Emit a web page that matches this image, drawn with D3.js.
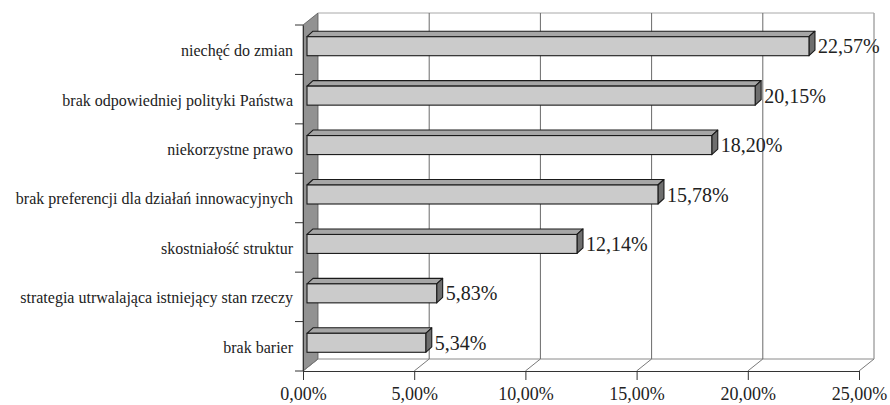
<!DOCTYPE html>
<html>
<head>
<meta charset="utf-8">
<script src="https://cdn.jsdelivr.net/npm/d3@7"></script>
<style>
  html, body { margin: 0; padding: 0; background: #fff; }
  svg { display: block; }
  text { font-family: "Liberation Serif", "Times New Roman", "DejaVu Serif", serif; fill: #222; }
</style>
</head>
<body>
<svg id="chart" width="890" height="405"></svg>
<script>
// Categories (top to bottom) and their shares in percent
const categories = [
  "niechęć do zmian",
  "brak odpowiedniej polityki Państwa",
  "niekorzystne prawo",
  "brak preferencji dla działań innowacyjnych",
  "skostniałość struktur",
  "strategia utrwalająca istniejący stan rzeczy",
  "brak barier"
];
const values = [22.57, 20.15, 18.20, 15.78, 12.14, 5.83, 5.34];
const xTicks = [0, 5, 10, 15, 20, 25];

const svg = d3.select("#chart");
const serif = "'Liberation Serif', 'Times New Roman', 'DejaVu Serif', serif";

// Plot box: front plane and depth offset of the 3D frame
const plotL = 303, plotR = 859, plotT = 25, plotB = 371;
const depthX = 15, depthY = -12;
// bar placement inside the depth and its own thickness
const barOffX = 4, barOffY = -3.5;
const barDX = 6, barDY = -5.5;
const barH = 19;

const x = d3.scaleLinear().domain([0, 25]).range([0, plotR - plotL]);
const y = d3.scaleBand().domain(categories).range([plotT, plotB]);

const pl = d3.formatLocale({ decimal: ",", thousands: " ", grouping: [3], currency: ["", " zł"] });
const pct = v => pl.format(".2f")(v) + "%";

// Left side wall
svg.append("path")
  .attr("d", `M${plotL},${plotT} L${plotL + depthX},${plotT + depthY} L${plotL + depthX},${plotB + depthY} L${plotL},${plotB} Z`)
  .attr("fill", "#929292").attr("stroke", "#555").attr("stroke-width", 0.8);

// Back wall outline (top and right edges)
svg.append("path")
  .attr("d", `M${plotL + depthX},${plotT + depthY} L${plotR + depthX},${plotT + depthY} L${plotR + depthX},${plotB + depthY}`)
  .attr("fill", "none").attr("stroke", "#a8a8a8").attr("stroke-width", 1);

// Floor: back edge
svg.append("line")
  .attr("x1", plotL + depthX).attr("x2", plotR + depthX)
  .attr("y1", plotB + depthY).attr("y2", plotB + depthY)
  .attr("stroke", "#8a8a8a").attr("stroke-width", 1);

// Gridlines on the back wall, continued across the floor to the front axis
const grid = svg.append("g");
xTicks.forEach(t => {
  const fx = plotL + x(t), bx = fx + depthX;
  if (t > 0) {
    grid.append("line")
      .attr("x1", bx).attr("x2", bx)
      .attr("y1", plotT + depthY).attr("y2", plotB + depthY)
      .attr("stroke", t === 25 ? "#a8a8a8" : "#6a6a6a").attr("stroke-width", 1);
  }
  grid.append("line")
    .attr("x1", bx).attr("y1", plotB + depthY)
    .attr("x2", fx).attr("y2", plotB)
    .attr("stroke", "#7a7a7a").attr("stroke-width", 1);
});

// Value axis along the front floor edge
const xAxis = d3.axisBottom(d3.scaleLinear().domain([0, 25]).range([plotL, plotR]))
  .tickValues(xTicks).tickSize(9).tickSizeOuter(0).tickPadding(7)
  .tickFormat(pct);
const gx = svg.append("g").attr("transform", `translate(0,${plotB})`).call(xAxis);
gx.select(".domain").attr("stroke", "#333");
gx.selectAll(".tick line").attr("stroke", "#333");
gx.selectAll(".tick text")
  .attr("font-size", 18).attr("fill", "#222")
  .style("font-family", serif);

// Category axis along the front-left edge
const yAxis = d3.axisLeft(y).tickSize(0).tickPadding(10);
const gy = svg.append("g").attr("transform", `translate(${plotL},0)`).call(yAxis);
gy.select(".domain").attr("stroke", "#333");
gy.selectAll(".tick text")
  .attr("font-size", 16).attr("fill", "#222").attr("dy", "0.4em")
  .style("font-family", serif);
// tick marks at band boundaries
const bounds = categories.map(c => y(c)).concat([plotB]);
svg.append("g").selectAll("line").data(bounds).join("line")
  .attr("x1", plotL - 8).attr("x2", plotL)
  .attr("y1", d => d).attr("y2", d => d)
  .attr("stroke", "#333").attr("stroke-width", 1);

// 3D bars
const bars = svg.append("g").selectAll("g").data(categories).join("g");
bars.each(function (c, i) {
  const g = d3.select(this);
  const v = values[i];
  const fx = plotL + barOffX;
  const cy = y(c) + y.bandwidth() / 2 + barOffY;
  const fy = cy - barH / 2;
  const w = x(v);
  // top face
  g.append("path")
    .attr("d", `M${fx},${fy} L${fx + barDX},${fy + barDY} L${fx + w + barDX},${fy + barDY} L${fx + w},${fy} Z`)
    .attr("fill", "#a6a6a6").attr("stroke", "#1a1a1a").attr("stroke-width", 1.1).attr("stroke-linejoin", "round");
  // end face
  g.append("path")
    .attr("d", `M${fx + w},${fy} L${fx + w + barDX},${fy + barDY} L${fx + w + barDX},${fy + barH + barDY} L${fx + w},${fy + barH} Z`)
    .attr("fill", "#6e6e6e").attr("stroke", "#1a1a1a").attr("stroke-width", 1.1).attr("stroke-linejoin", "round");
  // front face
  g.append("rect")
    .attr("x", fx).attr("y", fy).attr("width", w).attr("height", barH)
    .attr("fill", "#cbcbcb").attr("stroke", "#1a1a1a").attr("stroke-width", 1.1);
  // value label
  g.append("text")
    .attr("x", fx + w + barDX + 3).attr("y", cy + 7)
    .attr("font-size", 20)
    .style("font-family", serif)
    .text(pct(v));
});
</script>
</body>
</html>
